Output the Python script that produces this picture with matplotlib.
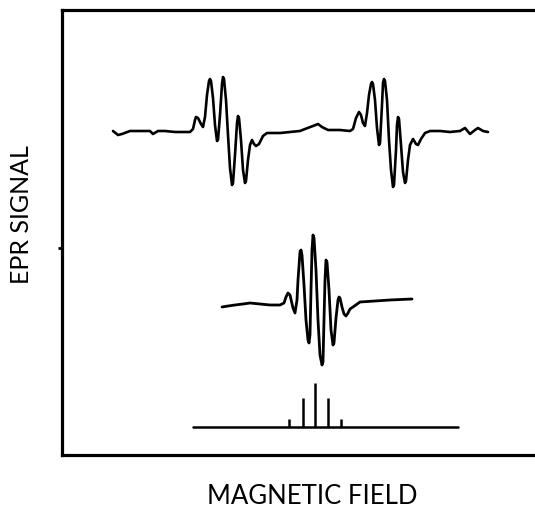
import numpy as np
import matplotlib.pyplot as plt

# Espectro experimental (dos grupos de lineas), unidades arbitrarias
campo_exp = [51, 56, 60, 68, 78, 88, 91, 96, 103, 113, 123, 128, 131, 133, 134,
             136, 139, 141, 143, 145, 147, 148, 149, 151, 153, 155, 156, 158, 160,
             161, 162, 164, 166, 168, 170, 171, 173, 175, 176, 177, 179, 181, 183,
             184, 186, 188, 190, 192, 194, 197, 201, 205, 218, 228, 238, 243, 251,
             256, 260, 266, 278, 288, 291, 294, 297, 299, 301, 303, 305, 307, 309,
             310, 311, 313, 315, 317, 318, 320, 321, 322, 323, 325, 327, 329, 331,
             332, 334, 335, 336, 337, 339, 341, 343, 344, 346, 348, 351, 354, 356,
             359, 363, 368, 378, 388, 398, 403, 408, 413, 416, 421, 426]
senal_exp = [324, 320, 321, 324, 324, 324, 321, 324, 324, 323, 323, 323, 326, 335,
             338, 337, 331, 328, 338, 360, 374, 376, 374, 357, 330, 314, 315, 340,
             371, 378, 376, 355, 320, 287, 270, 272, 300, 332, 339, 337, 315, 285,
             272, 274, 295, 310, 315, 311, 309, 311, 319, 322, 322, 323, 324, 326,
             329, 331, 328, 325, 325, 324, 326, 337, 343, 340, 332, 329, 342, 360,
             371, 373, 371, 355, 327, 310, 312, 350, 372, 376, 374, 355, 315, 285,
             268, 270, 305, 330, 338, 336, 310, 283, 272, 274, 295, 310, 316, 311,
             310, 316, 322, 324, 324, 323, 324, 327, 321, 325, 327, 324, 323]

# Espectro simulado (cinco lineas)
campo_sim = [160, 166, 173, 181, 188, 198, 208, 218, 222, 224, 226, 228, 231, 233,
             235, 236, 238, 239, 240, 242, 244, 246, 247, 248, 249, 250, 251, 252,
             254, 256, 258, 260, 261, 262, 263, 264, 265, 267, 269, 271, 272, 274,
             276, 277, 278, 280, 282, 284, 286, 288, 291, 298, 313, 328, 350]
senal_sim = [148, 149, 150, 151, 152, 151, 150, 150, 152, 158, 162, 160, 147, 142,
             155, 175, 203, 205, 200, 170, 135, 115, 112, 120, 165, 205, 220, 217,
             185, 135, 100, 90, 93, 135, 175, 195, 193, 165, 125, 110, 112, 137,
             155, 158, 157, 148, 141, 139, 142, 146, 148, 153, 154, 155, 156]

# Diagrama de barras 1:4:6:4:1
base_campo = [131, 396]
lineas_campo = [227, 241, 253, 266, 279]
lineas_altura = [8, 29, 44, 29, 8]
base_senal = 28

fig = plt.figure(figsize=(5.35, 5.07), dpi=100)
ax = fig.add_axes([62 / 535, 52 / 507, 478 / 535, 445 / 507])

estilo = dict(color='black', solid_joinstyle='round', solid_capstyle='round')
ax.plot(campo_exp, senal_exp, linewidth=1.9, **estilo)
ax.plot(campo_sim, senal_sim, linewidth=2.0, **estilo)
ax.plot(base_campo, [base_senal, base_senal], linewidth=1.8, **estilo)
ax.vlines(lineas_campo, base_senal, [base_senal + h for h in lineas_altura],
          color='black', linewidth=1.8)

ax.set_xlim(0, 478)
ax.set_ylim(0, 445)
ax.set_xticks([])
ax.set_yticks([207])
ax.set_yticklabels([])
ax.tick_params(axis='y', direction='out', length=3, width=2)
for s in ax.spines.values():
    s.set_linewidth(2.3)
ax.spines['right'].set_visible(False)

fig.text(312 / 535, 1 - 496 / 507, 'MAGNETIC FIELD', family='Lato',
         fontsize=18.5, ha='center', va='center')
fig.text(22 / 535, 1 - 215 / 507, 'EPR SIGNAL', family='Lato',
         fontsize=18, ha='center', va='center', rotation=90)

plt.savefig('out.png', dpi=100)
